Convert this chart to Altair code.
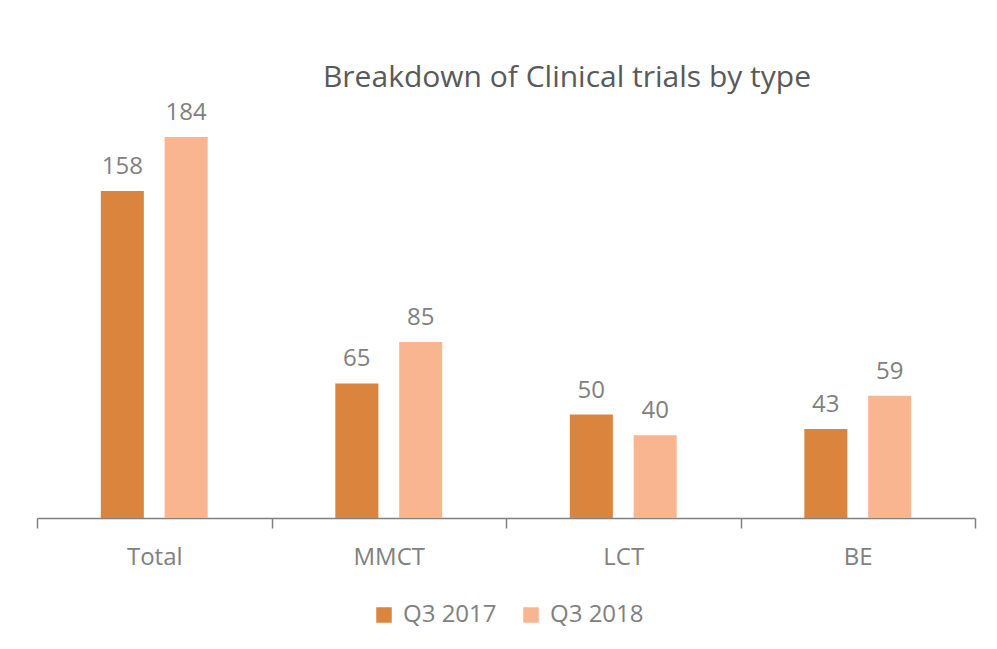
import altair as alt
import pandas as pd

categories = ["Total", "MMCT", "LCT", "BE"]
series = ["Q3 2017", "Q3 2018"]
q3_2017 = [158, 65, 50, 43]
q3_2018 = [184, 85, 40, 59]
colors = ["#DA843E", "#F9B590"]

rows = []
for c, a, b in zip(categories, q3_2017, q3_2018):
    rows.append({"cat": c, "series": series[0], "value": a})
    rows.append({"cat": c, "series": series[1], "value": b})
df = pd.DataFrame(rows)

FONT = "Open Sans"
GRAY = "#808080"

x = alt.X("cat:N", sort=categories, title=None,
          scale=alt.Scale(paddingInner=0, paddingOuter=0),
          axis=alt.Axis(labelAngle=0, labelFontSize=24, labelFont=FONT, labelColor=GRAY,
                        labelPadding=17, domainColor=GRAY, domainWidth=1.5, tickColor=GRAY,
                        tickWidth=1.5, tickSize=10, tickBand="extent"))
y = alt.Y("value:Q", scale=alt.Scale(domain=[0, 200]), axis=None)
xo = alt.XOffset("series:N", sort=series,
                 scale=alt.Scale(paddingInner=0.326, paddingOuter=1))

base = alt.Chart(df).encode(x=x, y=y, xOffset=xo)

bars = base.mark_bar().encode(
    color=alt.Color("series:N", sort=series,
                    scale=alt.Scale(domain=series, range=colors),
                    legend=alt.Legend(title=None, orient="none", direction="horizontal",
                                      legendX=335, legendY=499, symbolType="square",
                                      symbolSize=240, symbolStrokeWidth=0,
                                      labelFontSize=24, labelFont=FONT, labelColor=GRAY,
                                      columnPadding=22, labelOffset=7))
)
labels = base.mark_text(baseline="bottom", dy=-12, fontSize=24, font=FONT, color=GRAY).encode(
    text="value:Q"
)

chart = (bars + labels).properties(
    width=938, height=414,
    title=alt.TitleParams("Breakdown of Clinical trials by type", fontSize=30, font=FONT,
                          color="#595959", fontWeight="normal", anchor="middle", dx=61,
                          offset=8),
    padding={"left": 29, "top": 96, "right": 14, "bottom": 115},
    autosize=alt.AutoSizeParams(type="none"),
    background="white",
).configure_view(stroke=None)

chart.save("out.html", embed_options={"renderer": "svg", "actions": False})
